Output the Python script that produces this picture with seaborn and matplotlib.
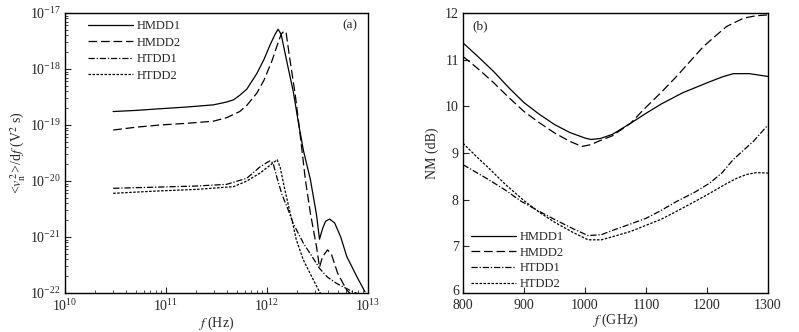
import matplotlib
matplotlib.use("Agg")
import matplotlib.pyplot as plt
from matplotlib.ticker import NullFormatter, FixedLocator
import matplotlib.transforms as mtransforms
import seaborn as sns
import pandas as pd

# ---------------- data: panel (a) ----------------
series_names = ["HMDD1", "HMDD2", "HTDD1", "HTDD2"]

f_hmdd1 = [3.0e10, 5.0e10, 8.71e10, 1.585e11, 2.95e11, 3.98e11, 4.68e11, 5.37e11,
           6.31e11, 7.94e11, 9.33e11, 1.072e12, 1.202e12, 1.288e12, 1.380e12,
           1.585e12, 1.820e12, 2.042e12, 2.291e12, 2.692e12, 3.090e12, 3.311e12,
           3.548e12, 3.802e12, 4.169e12, 4.677e12, 5.370e12, 6.166e12, 7.762e12,
           9.333e12]
v_hmdd1 = [1.74e-19, 1.82e-19, 1.95e-19, 2.09e-19, 2.29e-19, 2.57e-19, 2.82e-19,
           3.39e-19, 4.37e-19, 8.32e-19, 1.48e-18, 2.69e-18, 4.17e-18, 5.13e-18,
           4.17e-18, 1.26e-18, 3.98e-19, 1.12e-19, 3.55e-20, 1.05e-20, 2.51e-21,
           9.12e-22, 1.41e-21, 1.91e-21, 2.09e-21, 1.78e-21, 1.0e-21, 4.47e-22,
           1.95e-22, 1.05e-22]

f_hmdd2 = [3.0e10, 5.0e10, 8.71e10, 1.585e11, 2.95e11, 3.98e11, 5.37e11, 6.31e11,
           7.94e11, 9.33e11, 1.122e12, 1.259e12, 1.380e12, 1.479e12, 1.549e12,
           1.660e12, 1.905e12, 2.138e12, 2.399e12, 2.692e12, 3.090e12, 3.311e12,
           3.548e12, 3.981e12, 4.365e12, 5.012e12, 6.166e12, 7.079e12]
v_hmdd2 = [8.13e-20, 9.12e-20, 1.0e-19, 1.07e-19, 1.17e-19, 1.35e-19, 1.74e-19,
           2.24e-19, 3.72e-19, 6.31e-19, 1.41e-18, 2.63e-18, 4.17e-18, 4.79e-18,
           4.37e-18, 1.78e-18, 3.47e-19, 6.31e-20, 1.05e-20, 2.63e-21, 6.76e-22,
           2.88e-22, 4.47e-22, 5.89e-22, 4.79e-22, 2.24e-22, 1.12e-22, 8.91e-23]

f_htdd1 = [3.0e10, 7.94e10, 1.995e11, 3.98e11, 6.31e11, 8.51e11, 1.0e12, 1.072e12,
           1.148e12, 1.259e12, 1.413e12, 1.585e12, 1.820e12, 2.291e12, 2.818e12,
           3.311e12, 3.981e12, 4.898e12, 6.607e12, 8.318e12]
v_htdd1 = [7.41e-21, 7.76e-21, 8.13e-21, 8.71e-21, 1.12e-20, 1.78e-20, 2.14e-20,
           2.29e-20, 2.09e-20, 1.12e-20, 5.62e-21, 3.39e-21, 1.74e-21, 7.76e-22,
           4.37e-22, 2.75e-22, 1.91e-22, 1.48e-22, 1.12e-22, 9.33e-23]

f_htdd2 = [3.0e10, 7.94e10, 1.995e11, 4.68e11, 6.31e11, 8.51e11, 1.072e12, 1.259e12,
           1.349e12, 1.479e12, 1.660e12, 1.820e12, 1.950e12, 2.291e12, 2.884e12,
           3.311e12, 3.631e12]
v_htdd2 = [6.03e-21, 6.61e-21, 7.08e-21, 7.94e-21, 1.0e-20, 1.38e-20, 1.91e-20,
           2.40e-20, 1.78e-20, 7.94e-21, 3.16e-21, 1.58e-21, 8.91e-22, 3.89e-22,
           1.70e-22, 1.05e-22, 7.94e-23]

a_xticks = [1e10, 1e11, 1e12, 1e13]
a_yticks = [1e-22, 1e-21, 1e-20, 1e-19, 1e-18, 1e-17]

# ---------------- data: panel (b) ----------------
g_hmdd1 = [800, 825, 850, 875, 900, 925, 950, 975, 1000, 1010, 1025, 1045, 1075, 1100,
           1125, 1160, 1205, 1225, 1243, 1270, 1300]
nm_hmdd1 = [11.36, 11.06, 10.75, 10.40, 10.08, 9.83, 9.61, 9.44, 9.32, 9.29, 9.31, 9.40,
            9.64, 9.85, 10.05, 10.29, 10.53, 10.63, 10.70, 10.70, 10.64]

g_hmdd2 = [800, 825, 850, 875, 900, 925, 950, 975, 995, 1010, 1020, 1045, 1075, 1096,
           1125, 1150, 1194, 1215, 1232, 1260, 1280, 1300]
nm_hmdd2 = [11.07, 10.80, 10.51, 10.19, 9.89, 9.65, 9.43, 9.25, 9.14, 9.18, 9.24, 9.37,
            9.64, 9.93, 10.30, 10.64, 11.28, 11.52, 11.71, 11.89, 11.94, 11.96]

g_htdd1 = [800, 842, 870, 896, 925, 951, 980, 1005, 1027, 1049, 1075, 1100, 1125, 1150,
           1180, 1205, 1225, 1243, 1276, 1300]
nm_htdd1 = [8.75, 8.43, 8.20, 7.96, 7.75, 7.57, 7.38, 7.23, 7.25, 7.36, 7.48, 7.60, 7.77,
            7.96, 8.16, 8.36, 8.58, 8.86, 9.25, 9.60]

g_htdd2 = [800, 820, 842, 870, 900, 925, 951, 980, 1005, 1027, 1049, 1075, 1096, 1125,
           1150, 1180, 1205, 1230, 1249, 1265, 1281, 1300]
nm_htdd2 = [9.21, 8.95, 8.68, 8.32, 7.98, 7.73, 7.51, 7.30, 7.14, 7.14, 7.22, 7.32, 7.43,
            7.58, 7.75, 7.96, 8.14, 8.33, 8.46, 8.54, 8.58, 8.57]

b_xticks = [800, 900, 1000, 1100, 1200, 1300]
b_yticks = [6, 7, 8, 9, 10, 11, 12]

# ---------------- style ----------------
sns.set_style("ticks")
plt.rcParams["font.family"] = ["Liberation Serif", "DejaVu Serif"]
plt.rcParams["mathtext.fontset"] = "stix"
plt.rcParams["font.size"] = 9
plt.rcParams["axes.linewidth"] = 1.0

line_styles = {
    "HMDD1": "-",
    "HMDD2": (0, (7, 3)),
    "HTDD1": (0, (5, 1.5, 1, 1.5)),
    "HTDD2": (0, (2, 1.2)),
}

fig = plt.figure(figsize=(7.99, 3.32), dpi=100)
ax1 = fig.add_axes([65 / 799, 39 / 332, 303 / 799, 280 / 332])
ax2 = fig.add_axes([463 / 799, 39 / 332, 305 / 799, 280 / 332])

panel_a = [(f_hmdd1, v_hmdd1), (f_hmdd2, v_hmdd2), (f_htdd1, v_htdd1), (f_htdd2, v_htdd2)]
panel_b = [(g_hmdd1, nm_hmdd1), (g_hmdd2, nm_hmdd2), (g_htdd1, nm_htdd1), (g_htdd2, nm_htdd2)]

for name, (xs, ys) in zip(series_names, panel_a):
    df = pd.DataFrame({"f": xs, "v": ys})
    sns.lineplot(data=df, x="f", y="v", ax=ax1, color="black", lw=0.9,
                 linestyle=line_styles[name], label=name, estimator=None, sort=False)

for name, (xs, ys) in zip(series_names, panel_b):
    df = pd.DataFrame({"f": xs, "nm": ys})
    sns.lineplot(data=df, x="f", y="nm", ax=ax2, color="black", lw=0.9,
                 linestyle=line_styles[name], label=name, estimator=None, sort=False)

# panel (a) axes
ax1.set_xscale("log")
ax1.set_yscale("log")
ax1.set_xlim(1e10, 1e13)
ax1.set_ylim(1e-22, 1e-17)
ax1.xaxis.set_major_locator(FixedLocator(a_xticks))
ax1.yaxis.set_major_locator(FixedLocator(a_yticks))
ax1.xaxis.set_minor_formatter(NullFormatter())
ax1.yaxis.set_minor_formatter(NullFormatter())
ax1.set_xlabel(r"$f$ (Hz)", fontsize=10, labelpad=0)
ax1.set_ylabel(r"<$v_{\mathrm{n}}^{\,2}$>/d$f$ (V$^2$ s)", fontsize=10, labelpad=1)
ax1.text(0.94, 0.957, "(a)", transform=ax1.transAxes, ha="center", va="center", fontsize=9.5)
leg1 = ax1.legend(loc="upper left", bbox_to_anchor=(0.05, 1.002), frameon=False,
                  fontsize=9, handlelength=3.6, handletextpad=0.3, labelspacing=0.37,
                  borderaxespad=0.2)

# panel (b) axes
ax2.set_xlim(800, 1300)
ax2.set_ylim(6, 12)
ax2.set_xticks(b_xticks)
ax2.set_yticks(b_yticks)
ax2.set_xlabel(r"$f$ (GHz)", fontsize=10, labelpad=0)
ax2.set_ylabel("NM (dB)", fontsize=10, labelpad=4)
ax2.text(0.056, 0.952, "(b)", transform=ax2.transAxes, ha="center", va="center", fontsize=9.5)
leg2 = ax2.legend(loc="lower left", bbox_to_anchor=(0.0, -0.016), frameon=False,
                  fontsize=9, handlelength=3.6, handletextpad=0.3, labelspacing=0.29,
                  borderaxespad=0.2)

for ax in (ax1, ax2):
    ax.tick_params(which="major", direction="in", length=4, width=0.8, labelsize=10,
                   top=False, right=False)
    ax.tick_params(axis="x", which="major", pad=4)
    ax.tick_params(axis="y", which="major", pad=3)
    ax.tick_params(which="minor", direction="in", length=2, width=0.6, top=False, right=False)
    for s in ax.spines.values():
        s.set_visible(True)
        s.set_linewidth(1.0)
        s.set_color("black")

# nudge the lowest y tick label of panel (b) up slightly, as in the reference
lbl6 = ax2.get_yticklabels()[0]
lbl6.set_transform(lbl6.get_transform() +
                   mtransforms.ScaledTranslation(0, 2.5 / 72, fig.dpi_scale_trans))

fig.savefig("out.png", dpi=100)
